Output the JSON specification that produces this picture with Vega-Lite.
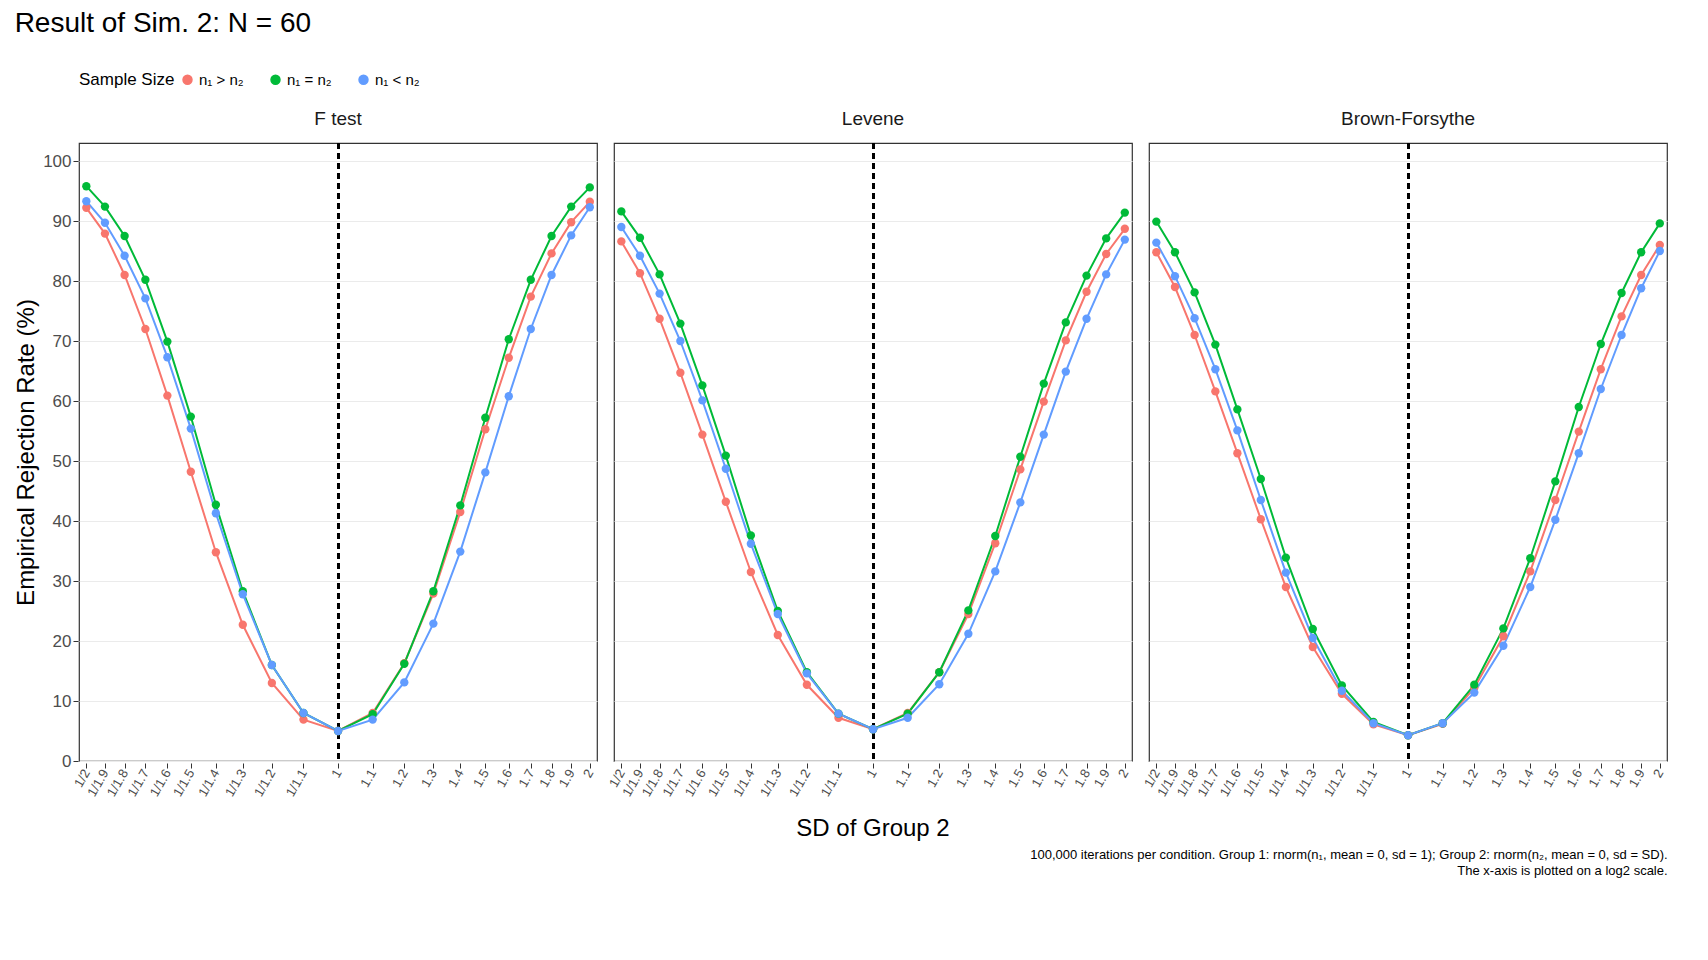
{
"$schema":"https://vega.github.io/schema/vega-lite/v6.json",
"background":"white",
"padding":{"left":14,"top":10,"right":14,"bottom":6},
"title":{"text":"Result of Sim. 2: N = 60","anchor":"start","fontSize":28,"fontWeight":"normal","font":"Liberation Sans","offset":34},
"config":{"font":"Liberation Sans","view":{"stroke":"#333333","strokeWidth":1.2},
"axis":{"gridColor":"#EBEBEB","domain":false,"tickColor":"#333","labelColor":"#4D4D4D","titleFontWeight":"normal","titleFontSize":24,"titleColor":"black"},
"header":{"labelFontSize":19,"labelColor":"#1A1A1A","titleFontSize":24,"titleFontWeight":"normal","titleColor":"black"}},
"vconcat":[{
"title":{"text":["100,000 iterations per condition. Group 1: rnorm(n₁, mean = 0, sd = 1); Group 2: rnorm(n₂, mean = 0, sd = SD).","The x-axis is plotted on a log2 scale."],"orient":"bottom","anchor":"end","fontSize":13,"fontWeight":"normal","offset":8,"lineHeight":16},
"data":{"values":[
{"test":"F test","sd":0.5,"gt":92.2,"eq":95.8,"lt":93.3},
{"test":"F test","sd":0.526316,"gt":87.9,"eq":92.4,"lt":89.7},
{"test":"F test","sd":0.555556,"gt":81.0,"eq":87.5,"lt":84.2},
{"test":"F test","sd":0.588235,"gt":72.0,"eq":80.2,"lt":77.1},
{"test":"F test","sd":0.625,"gt":60.9,"eq":69.9,"lt":67.3},
{"test":"F test","sd":0.666667,"gt":48.2,"eq":57.4,"lt":55.4},
{"test":"F test","sd":0.714286,"gt":34.8,"eq":42.7,"lt":41.3},
{"test":"F test","sd":0.769231,"gt":22.7,"eq":28.3,"lt":27.8},
{"test":"F test","sd":0.833333,"gt":13.0,"eq":16.0,"lt":16.0},
{"test":"F test","sd":0.909091,"gt":6.9,"eq":8.0,"lt":8.0},
{"test":"F test","sd":1,"gt":5.0,"eq":5.0,"lt":5.0},
{"test":"F test","sd":1.1,"gt":8.0,"eq":7.8,"lt":6.9},
{"test":"F test","sd":1.2,"gt":16.3,"eq":16.2,"lt":13.1},
{"test":"F test","sd":1.3,"gt":27.9,"eq":28.3,"lt":22.9},
{"test":"F test","sd":1.4,"gt":41.5,"eq":42.6,"lt":34.9},
{"test":"F test","sd":1.5,"gt":55.3,"eq":57.2,"lt":48.1},
{"test":"F test","sd":1.6,"gt":67.2,"eq":70.3,"lt":60.8},
{"test":"F test","sd":1.7,"gt":77.4,"eq":80.2,"lt":72.0},
{"test":"F test","sd":1.8,"gt":84.6,"eq":87.5,"lt":81.0},
{"test":"F test","sd":1.9,"gt":89.8,"eq":92.4,"lt":87.6},
{"test":"F test","sd":2,"gt":93.2,"eq":95.6,"lt":92.3},
{"test":"Levene","sd":0.5,"gt":86.6,"eq":91.6,"lt":89.0},
{"test":"Levene","sd":0.526316,"gt":81.3,"eq":87.2,"lt":84.2},
{"test":"Levene","sd":0.555556,"gt":73.7,"eq":81.1,"lt":77.9},
{"test":"Levene","sd":0.588235,"gt":64.7,"eq":72.9,"lt":70.0},
{"test":"Levene","sd":0.625,"gt":54.4,"eq":62.6,"lt":60.1},
{"test":"Levene","sd":0.666667,"gt":43.2,"eq":50.9,"lt":48.7},
{"test":"Levene","sd":0.714286,"gt":31.5,"eq":37.6,"lt":36.2},
{"test":"Levene","sd":0.769231,"gt":21.0,"eq":25.0,"lt":24.5},
{"test":"Levene","sd":0.833333,"gt":12.7,"eq":14.8,"lt":14.6},
{"test":"Levene","sd":0.909091,"gt":7.2,"eq":7.9,"lt":7.9},
{"test":"Levene","sd":1,"gt":5.3,"eq":5.3,"lt":5.3},
{"test":"Levene","sd":1.1,"gt":8.0,"eq":7.9,"lt":7.2},
{"test":"Levene","sd":1.2,"gt":14.8,"eq":14.8,"lt":12.8},
{"test":"Levene","sd":1.3,"gt":24.5,"eq":25.1,"lt":21.2},
{"test":"Levene","sd":1.4,"gt":36.3,"eq":37.5,"lt":31.6},
{"test":"Levene","sd":1.5,"gt":48.6,"eq":50.7,"lt":43.1},
{"test":"Levene","sd":1.6,"gt":59.9,"eq":62.9,"lt":54.4},
{"test":"Levene","sd":1.7,"gt":70.1,"eq":73.1,"lt":64.9},
{"test":"Levene","sd":1.8,"gt":78.2,"eq":80.9,"lt":73.7},
{"test":"Levene","sd":1.9,"gt":84.5,"eq":87.1,"lt":81.1},
{"test":"Levene","sd":2,"gt":88.7,"eq":91.4,"lt":86.9},
{"test":"Brown-Forsythe","sd":0.5,"gt":84.8,"eq":89.9,"lt":86.4},
{"test":"Brown-Forsythe","sd":0.526316,"gt":79.0,"eq":84.8,"lt":80.8},
{"test":"Brown-Forsythe","sd":0.555556,"gt":71.0,"eq":78.1,"lt":73.8},
{"test":"Brown-Forsythe","sd":0.588235,"gt":61.6,"eq":69.4,"lt":65.3},
{"test":"Brown-Forsythe","sd":0.625,"gt":51.3,"eq":58.6,"lt":55.1},
{"test":"Brown-Forsythe","sd":0.666667,"gt":40.3,"eq":47.0,"lt":43.5},
{"test":"Brown-Forsythe","sd":0.714286,"gt":29.0,"eq":33.9,"lt":31.4},
{"test":"Brown-Forsythe","sd":0.769231,"gt":19.0,"eq":22.0,"lt":20.5},
{"test":"Brown-Forsythe","sd":0.833333,"gt":11.2,"eq":12.6,"lt":11.7},
{"test":"Brown-Forsythe","sd":0.909091,"gt":6.1,"eq":6.5,"lt":6.3},
{"test":"Brown-Forsythe","sd":1,"gt":4.3,"eq":4.3,"lt":4.3},
{"test":"Brown-Forsythe","sd":1.1,"gt":6.2,"eq":6.3,"lt":6.3},
{"test":"Brown-Forsythe","sd":1.2,"gt":12.2,"eq":12.7,"lt":11.4},
{"test":"Brown-Forsythe","sd":1.3,"gt":20.8,"eq":22.1,"lt":19.2},
{"test":"Brown-Forsythe","sd":1.4,"gt":31.6,"eq":33.8,"lt":29.0},
{"test":"Brown-Forsythe","sd":1.5,"gt":43.5,"eq":46.6,"lt":40.2},
{"test":"Brown-Forsythe","sd":1.6,"gt":54.9,"eq":59.0,"lt":51.3},
{"test":"Brown-Forsythe","sd":1.7,"gt":65.3,"eq":69.5,"lt":62.0},
{"test":"Brown-Forsythe","sd":1.8,"gt":74.1,"eq":78.0,"lt":71.0},
{"test":"Brown-Forsythe","sd":1.9,"gt":81.0,"eq":84.8,"lt":78.8},
{"test":"Brown-Forsythe","sd":2,"gt":86.0,"eq":89.6,"lt":85.0}
]},
"transform":[{"fold":["gt","eq","lt"],"as":["group","rate"]}],
"facet":{"column":{"field":"test","type":"nominal","sort":["F test","Levene","Brown-Forsythe"],"title":"SD of Group 2","header":{"labelPadding":12,"labelOrient":"top","titleOrient":"bottom","titlePadding":8}}},
"spacing":15,
"spec":{"width":518,"height":618,
"layer":[
{"mark":{"type":"rule","strokeDash":[6,4],"strokeWidth":2,"color":"black"},"encoding":{"x":{"datum":1,"type":"quantitative"}}},
{"mark":{"type":"line","strokeWidth":2},"encoding":{
"x":{"field":"sd","type":"quantitative","scale":{"type":"log","base":2,"domain":[0.49,2.04],"nice":false},
"axis":{"values":[0.5,0.526316,0.555556,0.588235,0.625,0.666667,0.714286,0.769231,0.833333,0.909091,1,1.1,1.2,1.3,1.4,1.5,1.6,1.7,1.8,1.9,2],
"labelExpr":"datum.value < 0.99 ? '1/' + format(1/datum.value, '.2~f') : format(datum.value, '.1~f')","labelAngle":-60,"labelFontSize":13,"labelAlign":"right","labelBaseline":"middle","labelOverlap":false},"title":null},
"y":{"field":"rate","type":"quantitative","scale":{"domain":[0,103],"nice":false},
"axis":{"values":[0,5,10,15,20,25,30,35,40,45,50,55,60,65,70,75,80,85,90,95,100],"labelExpr":"datum.value % 10 == 0 ? datum.value : ''","labelFontSize":17},"title":"Empirical Rejection Rate (%)"},
"color":{"field":"group","type":"nominal","sort":["gt","eq","lt"],"scale":{"domain":["gt","eq","lt"],"range":["#F8766D","#00BA38","#619CFF"]},
"legend":{"title":"Sample Size","orient":"top","direction":"horizontal","titleOrient":"left","titleFontSize":17,"titleFontWeight":"normal","labelFontSize":15,"symbolType":"circle","symbolSize":80,"columnPadding":24,"labelExpr":"datum.value=='gt' ? 'n₁ > n₂' : datum.value=='eq' ? 'n₁ = n₂' : 'n₁ < n₂'","offset":22}}}},
{"mark":{"type":"circle","size":70,"opacity":1},"encoding":{
"x":{"field":"sd","type":"quantitative"},"y":{"field":"rate","type":"quantitative"},
"color":{"field":"group","type":"nominal"}}}
]}
}]
}
